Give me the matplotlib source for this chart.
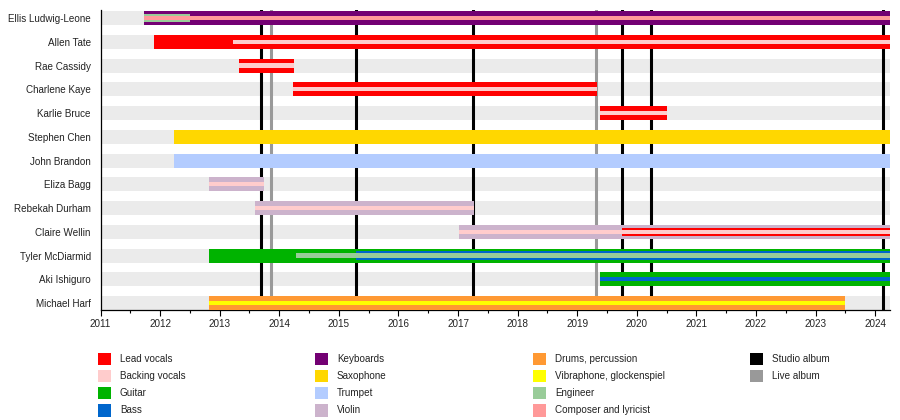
import matplotlib
matplotlib.use("Agg")
import matplotlib.pyplot as plt
from matplotlib.patches import Rectangle
from matplotlib.ticker import MultipleLocator

plt.rcParams['font.family'] = ['Liberation Sans', 'DejaVu Sans']

# ---------------- data ----------------
START, END = 2011.0, 2024.25

members = ["Ellis Ludwig-Leone", "Allen Tate", "Rae Cassidy", "Charlene Kaye",
           "Karlie Bruce", "Stephen Chen", "John Brandon", "Eliza Bagg",
           "Rebekah Durham", "Claire Wellin", "Tyler McDiarmid", "Aki Ishiguro",
           "Michael Harf"]

main_role = ["Keyboards", "Lead vocals", "Lead vocals", "Lead vocals",
             "Lead vocals", "Saxophone", "Trumpet", "Violin", "Violin",
             "Violin", "Guitar", "Guitar", "Drums, percussion"]
main_start = [2011.73, 2011.89, 2013.32, 2014.23, 2019.39, 2012.23, 2012.23,
              2012.82, 2013.59, 2017.01, 2012.82, 2019.39, 2012.82]
main_end = [END, END, 2014.24, 2019.33, 2020.50, END, END, 2013.74, 2017.26,
            END, END, END, 2023.50]

# secondary roles (layer 2 = medium strip, layer 3 = thin strip)
sec_member = ["Ellis Ludwig-Leone", "Ellis Ludwig-Leone", "Allen Tate",
              "Rae Cassidy", "Charlene Kaye", "Karlie Bruce", "Eliza Bagg",
              "Rebekah Durham", "Claire Wellin", "Claire Wellin",
              "Tyler McDiarmid", "Tyler McDiarmid", "Aki Ishiguro",
              "Michael Harf"]
sec_role = ["Engineer", "Composer and lyricist", "Backing vocals",
            "Backing vocals", "Backing vocals", "Backing vocals",
            "Backing vocals", "Backing vocals", "Lead vocals",
            "Backing vocals", "Bass", "Engineer", "Bass",
            "Vibraphone, glockenspiel"]
sec_start = [2011.73, 2011.73, 2013.22, 2013.32, 2014.23, 2019.39, 2012.82,
             2013.59, 2019.75, 2017.01, 2015.28, 2014.28, 2019.39, 2012.82]
sec_end = [2012.50, END, END, 2014.24, 2019.33, 2020.50, 2013.74, 2017.26,
           END, END, END, END, END, 2023.50]
sec_layer = [2, 3, 3, 3, 3, 3, 3, 3, 2, 3, 2, 3, 3, 3]

studio_albums = [2013.69, 2015.29, 2017.25, 2019.75, 2020.24, 2024.13]
live_albums = [2013.86, 2019.32]

role_colors = {
    "Lead vocals": "#ff0000",
    "Backing vocals": "#ffcccc",
    "Guitar": "#00b300",
    "Bass": "#0066cc",
    "Keyboards": "#730073",
    "Saxophone": "#ffd700",
    "Trumpet": "#b3ccff",
    "Violin": "#ccb3cc",
    "Drums, percussion": "#ff9933",
    "Vibraphone, glockenspiel": "#ffff00",
    "Engineer": "#99cc99",
    "Composer and lyricist": "#ff9999",
}
legend_cols = [
    ["Lead vocals", "Backing vocals", "Guitar", "Bass"],
    ["Keyboards", "Saxophone", "Trumpet", "Violin"],
    ["Drums, percussion", "Vibraphone, glockenspiel", "Engineer",
     "Composer and lyricist"],
    ["Studio album", "Live album"],
]
line_colors = {"Studio album": "#000000", "Live album": "#999999"}

# ---------------- drawing ----------------
W, H = 900, 420
fig = plt.figure(figsize=(9, 4.2), dpi=100)
ax = fig.add_axes([100.5 / W, 110 / H, (890 - 100.5) / W, 300 / H])

FS = 7.1
TXT = "#222222"
layer_h = {1: 0.59, 2: 0.34, 3: 0.18}

ypos = {m: i for i, m in enumerate(members)}

# row backgrounds
ax.barh(range(len(members)), [END - START] * len(members), left=START,
        height=layer_h[1], color="#ebebeb", zorder=0, linewidth=0)

# album lines
for x in studio_albums:
    ax.axvline(x, color=line_colors["Studio album"], lw=2.2, zorder=1)
for x in live_albums:
    ax.axvline(x, color=line_colors["Live album"], lw=2.2, zorder=1)

# main bars
for m, r, s, e in zip(members, main_role, main_start, main_end):
    ax.barh(ypos[m], e - s, left=s, height=layer_h[1], color=role_colors[r],
            zorder=3, linewidth=0)

# secondary bars
order = sorted(range(len(sec_member)), key=lambda i: sec_layer[i])
for i in order:
    ax.barh(ypos[sec_member[i]], sec_end[i] - sec_start[i], left=sec_start[i],
            height=layer_h[sec_layer[i]], color=role_colors[sec_role[i]],
            zorder=3 + sec_layer[i], linewidth=0)

ax.set_xlim(START, END)
ax.set_ylim(len(members) - 1 + 0.295, -0.34)
ax.set_yticks(range(len(members)))
ax.set_yticklabels(members, fontsize=FS, color=TXT)
ax.tick_params(axis="y", length=0, pad=7)
ax.xaxis.set_major_locator(MultipleLocator(1))
ax.xaxis.set_minor_locator(MultipleLocator(0.5))
ax.xaxis.set_major_formatter(matplotlib.ticker.FuncFormatter(lambda v, p: f"{int(round(v))}"))
ax.tick_params(axis="x", which="major", length=4, width=0.8, labelsize=FS,
               labelcolor=TXT, pad=2.5)
ax.tick_params(axis="x", which="minor", length=2.2, width=0.8)
for s in ("top", "right"):
    ax.spines[s].set_visible(False)
ax.spines["left"].set_linewidth(0.9)
ax.spines["bottom"].set_linewidth(0.9)

# legend (manual, four evenly spaced columns)
col_x = [98, 315, 533, 750]
row_y = [358.8, 376.0, 393.2, 410.4]
sq = 12.5
for cx, items in zip(col_x, legend_cols):
    for ry, label in zip(row_y, items):
        col = role_colors.get(label, line_colors.get(label))
        fig.add_artist(Rectangle((cx / W, 1 - (ry + sq / 2) / H), sq / W, sq / H,
                                 transform=fig.transFigure, color=col, lw=0))
        fig.text((cx + 22) / W, 1 - ry / H, label, fontsize=FS, color=TXT,
                 va="center", ha="left")

fig.savefig("out.png", dpi=100)
